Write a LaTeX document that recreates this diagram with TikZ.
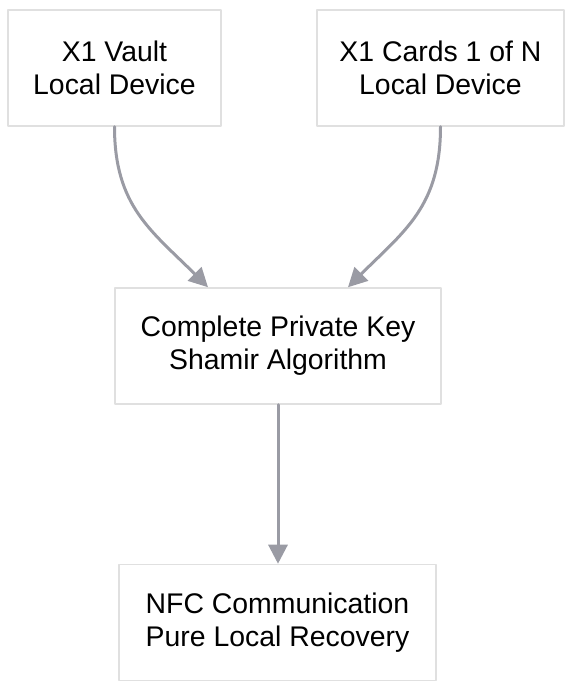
\documentclass[tikz,border=0pt]{standalone}
\usepackage{fontspec}
\setmainfont{Liberation Sans}
\usepackage{xcolor}
\usepackage{tikz}
\usetikzlibrary{arrows.meta,positioning,calc}
\definecolor{edgegray}{HTML}{9A9BA4}
\definecolor{boxgray}{HTML}{E0E0E0}
\tikzset{%
          box/.style = { draw=boxgray, line width=1.5pt, fill=white, align=center, inner sep=0pt,
                         minimum height=116pt, font=\fontsize{28.4}{33}\selectfont },
         flow/.style = { draw=edgegray, line width=3pt, -{Triangle[length=19pt,width=19pt]} }
}
\begin{document}
\begin{tikzpicture}[x=1pt,y=1pt,line cap=round,line join=round]
\useasboundingbox (0,0) rectangle (584,694);
%\draw[step=50,gray!30,very thin] (0,0) grid (584,694);
\node[box,minimum width=213pt] (vault) at (114.5,626) {X1 Vault\\Local Device};
\node[box,minimum width=247pt] (cards) at (440.5,626) {X1 Cards 1 of N\\Local Device};
\node[box,minimum width=326pt] (key)   at (278,348)   {Complete Private Key\\Shamir Algorithm};
\node[box,minimum width=317pt] (nfc)   at (277.5,71.5) {NFC Communication\\Pure Local Recovery};
\coordinate (keyL) at ($(key.north)+(-70,0)$);
\coordinate (keyR) at ($(key.north)+(70,0)$);
\draw[flow] (vault.south) to[out=-90,in=135,looseness=1.1] (keyL);
\draw[flow] (cards.south) to[out=-90,in=45,looseness=1.1] (keyR);
\draw[flow] (key.south) -- (key.south |- nfc.north);
\end{tikzpicture}
\end{document}
